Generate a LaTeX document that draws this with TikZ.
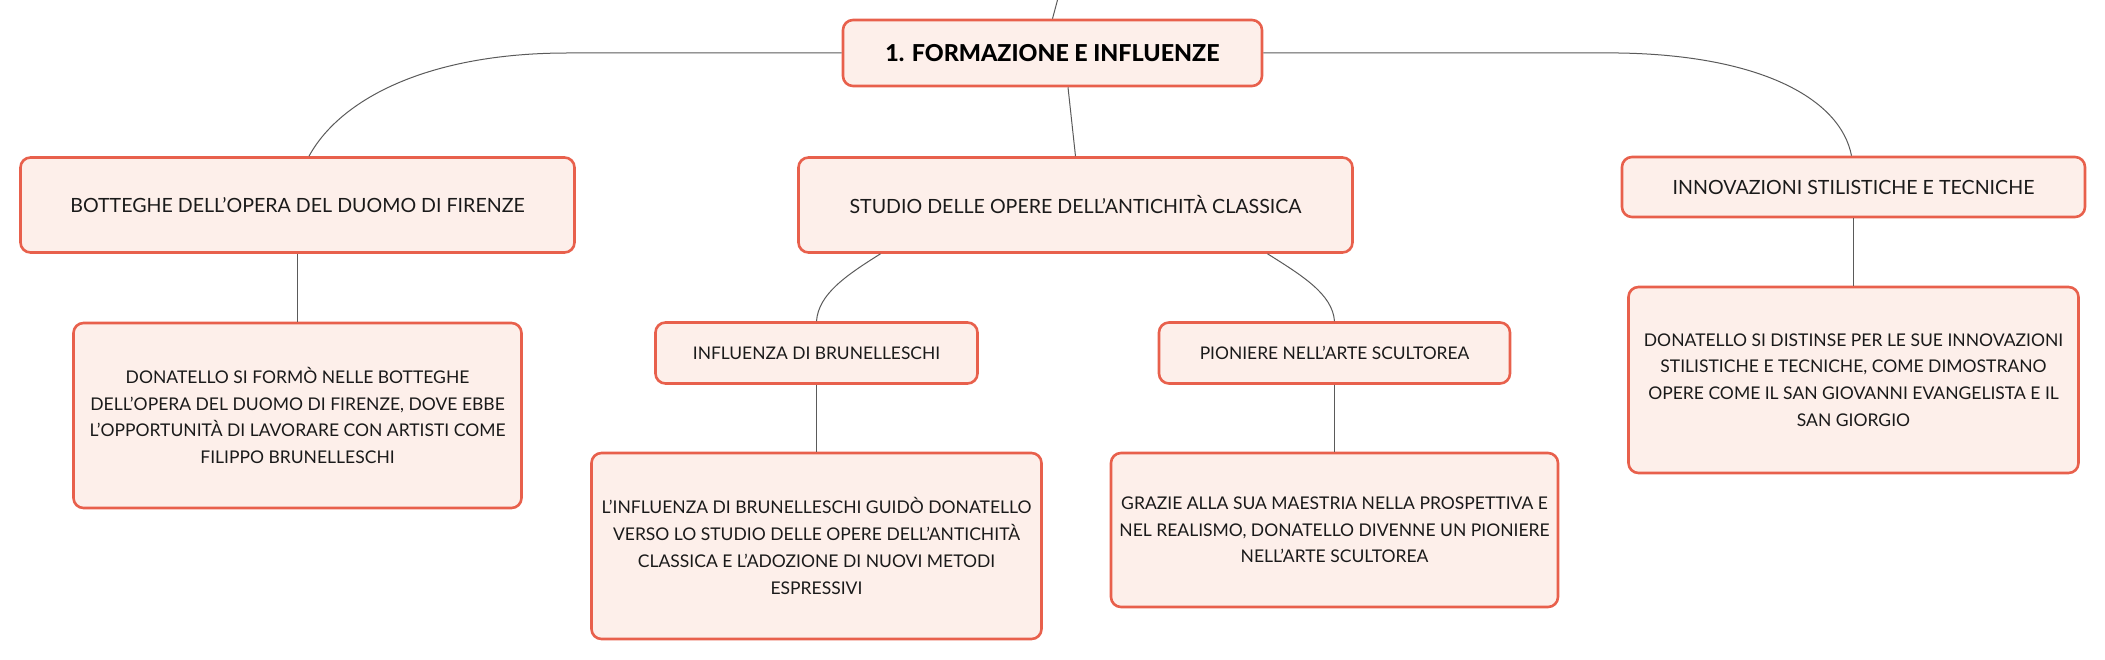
\documentclass[tikz,border=0pt]{standalone}
\usepackage{fontspec}
\setmainfont{Lato}
\IfFontExistsTF{Lato Heavy}{\newfontfamily\rootfont{Lato Heavy}}{%
  \IfFontExistsTF{Lato Black}{\newfontfamily\rootfont{Lato Black}}{\newcommand\rootfont{\bfseries}}}
\usetikzlibrary{calc}
\definecolor{boxborder}{HTML}{E8604C}
\definecolor{boxfill}{HTML}{FDEFEA}
\definecolor{linegray}{HTML}{5A5A5A}
\definecolor{txt}{HTML}{1A1A1A}
\tikzset{
  box/.style={draw=boxborder, fill=boxfill, line width=2.6pt, rounded corners=10pt,
    inner sep=0pt, align=center, text=txt, font=\fontsize{17.5}{26.7}\selectfont},
  topicbox/.style={box, font=\fontsize{19.6}{24}\selectfont},
  subbox/.style={box, font=\fontsize{17.4}{22}\selectfont},
  rootbox/.style={box, text=black, font=\rootfont\fontsize{23.3}{28}\selectfont},
  conn/.style={draw=linegray, line width=1pt}
}
\begin{document}
\begin{tikzpicture}[x=1pt,y=-1pt]
\useasboundingbox (0,0) rectangle (2105,660);
\node[rootbox, minimum width=419, minimum height=66] (root) at (1052.5,53) {1. FORMAZIONE E INFLUENZE};
\node[topicbox, minimum width=554, minimum height=95] (bott) at (297.5,205) {BOTTEGHE DELL’OPERA DEL DUOMO DI FIRENZE};
\node[topicbox, minimum width=554, minimum height=95] (stud) at (1075.5,205) {STUDIO DELLE OPERE DELL’ANTICHITÀ CLASSICA};
\node[topicbox, minimum width=463, minimum height=60] (inno) at (1853.5,187) {INNOVAZIONI STILISTICHE E TECNICHE};
\node[box, minimum width=448, minimum height=185] (botd) at (297.5,415.5) {DONATELLO SI FORMÒ NELLE BOTTEGHE\\DELL’OPERA DEL DUOMO DI FIRENZE, DOVE EBBE\\L’OPPORTUNITÀ DI LAVORARE CON ARTISTI COME\\FILIPPO BRUNELLESCHI};
\node[subbox, minimum width=322, minimum height=61] (infl) at (816.5,353) {INFLUENZA DI BRUNELLESCHI};
\node[subbox, minimum width=351, minimum height=61] (pion) at (1334.5,353) {PIONIERE NELL’ARTE SCULTOREA};
\node[box, minimum width=450, minimum height=186] (infd) at (816.5,546) {L’INFLUENZA DI BRUNELLESCHI GUIDÒ DONATELLO\\VERSO LO STUDIO DELLE OPERE DELL’ANTICHITÀ\\CLASSICA E L’ADOZIONE DI NUOVI METODI\\ESPRESSIVI};
\node[box, minimum width=447, minimum height=154] (pind) at (1334.5,530) {GRAZIE ALLA SUA MAESTRIA NELLA PROSPETTIVA E\\NEL REALISMO, DONATELLO DIVENNE UN PIONIERE\\NELL’ARTE SCULTOREA};
\node[box, minimum width=450, minimum height=186] (innd) at (1853.5,380) {DONATELLO SI DISTINSE PER LE SUE INNOVAZIONI\\STILISTICHE E TECNICHE, COME DIMOSTRANO\\OPERE COME IL SAN GIOVANNI EVANGELISTA E IL\\SAN GIORGIO};
\coordinate (topend) at (1057.5,0);
\draw[conn] (topend) -- (root.north);
\draw[conn] ([xshift=15.5pt]root.south) -- (stud.north);
\draw[conn] (root.west) -- ++(-274,0) .. controls +(-140,0) and +(31,-57) .. ([xshift=11.5pt]bott.north);
\draw[conn] (root.east) -- ++(355,0) .. controls +(142,2) and +(-11,-57) .. ([xshift=-2pt]inno.north);
\draw[conn] ([xshift=-195pt]stud.south) .. controls +(-35,22) and +(2,-27) .. (infl.north);
\draw[conn] ([xshift=192pt]stud.south) .. controls +(35,22) and +(-2,-27) .. (pion.north);
\draw[conn] (bott.south) -- (botd.north);
\draw[conn] (infl.south) -- (infd.north);
\draw[conn] (pion.south) -- (pind.north);
\draw[conn] (inno.south) -- (innd.north);
\end{tikzpicture}
\end{document}
